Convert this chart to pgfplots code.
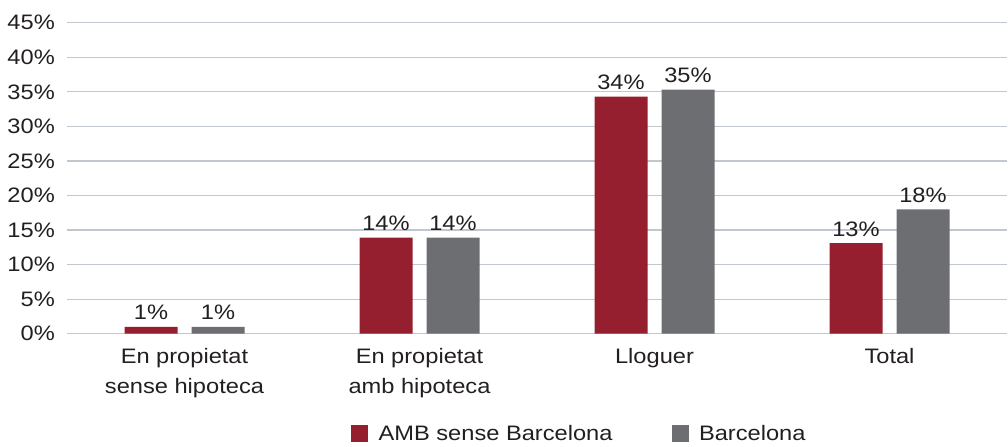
\documentclass[border=0pt]{standalone}
\usepackage{pgfplots}
\pgfplotsset{compat=1.18}
\usepackage{fontspec}
\setmainfont{Liberation Sans}[FakeStretch=1.13]
\usetikzlibrary{calc}
\definecolor{amb}{RGB}{149,31,46}
\definecolor{bcn}{RGB}{109,110,114}
\definecolor{gridc}{RGB}{192,199,207}
\definecolor{txt}{RGB}{35,31,32}
\newcommand\chfont{\fontsize{21}{30.5}\selectfont}
\begin{document}
\begin{tikzpicture}
\begin{axis}[
 name=ax,
 scale only axis, width=940bp, height=311bp,
 xmin=-0.5, xmax=3.5, ymin=0, ymax=45,
 ybar=14bp, bar width=53bp,
 ytick={0,5,...,45},
 yticklabel={\pgfmathprintnumber{\tick}\%},
 /pgf/number format/assume math mode=true,
 xtick={0,1,2,3},
 xticklabels={{En propietat\\sense hipoteca},{En propietat\\amb hipoteca},Lloguer,Total},
 major tick length=0pt,
 axis line style={draw=none},
 ymajorgrids, grid style={draw=gridc, line width=1.2bp},
 tick label style={font=\chfont, text=txt},
 yticklabel style={inner sep=0pt, xshift=-12bp},
 xticklabel style={align=center, inner sep=0pt, yshift=-14bp, anchor=north},
 nodes near coords, point meta=explicit symbolic,
 every node near coord/.append style={font=\chfont, text=txt, inner sep=0pt, yshift=7bp, anchor=base},
 legend style={at={(0.545,-0.32)}, anchor=center, draw=none, legend columns=2, font=\chfont, text=txt,
   /tikz/every odd column/.append style={column sep=8.5bp},
   /tikz/every even column/.append style={column sep=57bp}},
 legend image code/.code={\fill[#1] (0bp,-8.5bp) rectangle (17bp,8.5bp);},
]
\addplot[fill=amb, draw=none] coordinates {(0,1) [1\%] (1,13.9) [14\%] (2,34.3) [34\%] (3,13.1) [13\%]};
\addplot[fill=bcn, draw=none] coordinates {(0,1) [1\%] (1,13.9) [14\%] (2,35.3) [35\%] (3,18.0) [18\%]};
\legend{AMB sense Barcelona, Barcelona}
\end{axis}
\pgfresetboundingbox
\path ($(ax.south west)+(-67bp,-112.5bp)$) rectangle ($(ax.north east)+(1bp,22.7bp)$);
\end{tikzpicture}
\end{document}
